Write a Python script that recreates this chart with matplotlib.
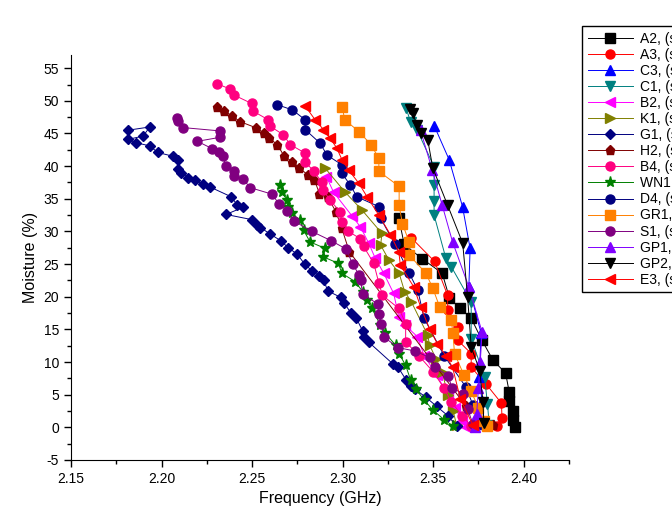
import matplotlib.pyplot as plt
from matplotlib.ticker import MultipleLocator

plt.rcParams['font.family'] = ['Liberation Sans', 'DejaVu Sans']
plt.rcParams['axes.unicode_minus'] = False

# frequency (GHz) / moisture (%)
freq_A2 = [2.331, 2.334, 2.344, 2.355, 2.359, 2.365, 2.371, 2.377, 2.383, 2.390, 2.392, 2.392, 2.394, 2.394, 2.395]
moist_A2 = [32.1, 28.0, 25.8, 23.6, 19.8, 18.2, 16.7, 13.3, 10.3, 8.3, 5.4, 4.0, 2.5, 1.2, 0.0]

freq_A3 = [2.338, 2.3508, 2.358, 2.358, 2.3637, 2.3637, 2.371, 2.371, 2.379, 2.3877, 2.388, 2.385]
moist_A3 = [29.0, 25.4, 20.2, 17.9, 15.4, 13.3, 11.3, 9.2, 6.7, 3.7, 1.5, 0.2]

freq_C3 = [2.3507, 2.3588, 2.3662, 2.3704, 2.3697, 2.3765, 2.3754, 2.377, 2.378]
moist_C3 = [46.1, 41.0, 33.8, 27.4, 21.5, 14.4, 7.7, 4.0, 0.5]

freq_C1 = [2.335, 2.3375, 2.341, 2.3505, 2.3505, 2.3505, 2.3505, 2.357, 2.360, 2.371, 2.371, 2.3784, 2.380, 2.381]
moist_C1 = [48.9, 46.8, 45.6, 39.9, 37.1, 34.6, 32.5, 25.9, 24.6, 19.2, 13.6, 7.7, 3.5, 0.3]

freq_B2 = [2.291, 2.295, 2.3051, 2.3098, 2.3144, 2.318, 2.3227, 2.3282, 2.331, 2.3347, 2.3412, 2.345, 2.352, 2.358, 2.362, 2.366, 2.368]
moist_B2 = [38.4, 36.0, 32.4, 30.7, 28.2, 25.9, 23.6, 20.5, 16.9, 15.6, 13.9, 11.0, 8.0, 5.0, 3.0, 1.0, 0.1]

freq_K1 = [2.2903, 2.3014, 2.3106, 2.3217, 2.321, 2.3256, 2.3312, 2.3342, 2.338, 2.347, 2.348, 2.3516, 2.355, 2.358, 2.361, 2.363]
moist_K1 = [39.7, 36.0, 33.3, 29.7, 27.9, 25.6, 23.6, 20.8, 19.2, 14.1, 12.6, 10.5, 8.5, 5.0, 2.5, 0.3]

freq_G1 = [2.1815, 2.1935, 2.1898, 2.1815, 2.1857, 2.1935, 2.1978, 2.2065, 2.2093, 2.2093, 2.211,
           2.2148, 2.2185, 2.2231, 2.2268, 2.2385, 2.2417, 2.245, 2.2356, 2.25, 2.2528, 2.2546,
           2.26, 2.2657, 2.27, 2.275, 2.279, 2.283, 2.287, 2.2897, 2.2917, 2.299, 2.3007, 2.3046,
           2.3074, 2.311, 2.312, 2.3146, 2.3278, 2.3306, 2.3352, 2.338, 2.3397, 2.346, 2.352, 2.358, 2.363]
moist_G1 = [45.5, 46.0, 44.6, 44.1, 43.6, 43.1, 42.1, 41.5, 40.9, 39.5, 39.0,
            38.2, 37.8, 37.2, 36.8, 35.3, 34.1, 33.7, 32.6, 31.8, 31.0, 30.6,
            29.6, 28.6, 27.5, 26.5, 25.0, 24.0, 23.2, 22.5, 20.9, 19.9, 19.1, 17.5,
            16.8, 14.8, 13.8, 13.0, 9.7, 9.2, 7.2, 6.4, 5.9, 4.6, 3.2, 1.8, 0.2]

freq_H2 = [2.2306, 2.2343, 2.2389, 2.2435, 2.2519, 2.2565, 2.2593, 2.264, 2.2677, 2.2723, 2.276,
           2.2807, 2.2844, 2.2872, 2.2917, 2.2963, 2.2995, 2.3037, 2.368, 2.383]
moist_H2 = [49.1, 48.5, 47.7, 46.8, 45.9, 45.1, 44.3, 43.3, 41.5, 40.7, 39.7,
            38.7, 37.9, 35.8, 35.3, 33.0, 30.5, 26.9, 3.3, 0.3]

freq_B4 = [2.2307, 2.238, 2.2399, 2.2497, 2.2507, 2.2589, 2.26, 2.2673, 2.271, 2.2793, 2.2793, 2.284,
           2.2885, 2.2894, 2.293, 2.2986, 2.2995, 2.3032, 2.3097, 2.3116, 2.3172, 2.32, 2.322,
           2.3311, 2.3348, 2.3348, 2.342, 2.35, 2.356, 2.36, 2.366, 2.371]
moist_B4 = [52.6, 51.8, 50.9, 49.6, 48.4, 47.1, 46.1, 44.8, 43.3, 42.0, 40.7, 39.2,
            37.6, 36.3, 34.8, 33.0, 31.5, 30.0, 28.9, 27.7, 25.1, 22.1, 20.2,
            18.2, 15.9, 13.1, 11.0, 8.5, 6.0, 3.9, 1.8, 0.2]

freq_WN1 = [2.2655, 2.2664, 2.2692, 2.2701, 2.2719, 2.2765, 2.2784, 2.282, 2.2903, 2.2894, 2.2977,
            2.2995, 2.307, 2.311, 2.3134, 2.3162, 2.3209, 2.3236, 2.3292, 2.3311, 2.3348, 2.3376,
            2.3403, 2.345, 2.35, 2.356, 2.361]
moist_WN1 = [37.1, 36.1, 34.8, 33.8, 32.8, 31.7, 30.2, 28.4, 27.4, 26.1, 25.1,
             23.6, 22.3, 20.8, 19.5, 18.2, 15.6, 14.4, 12.6, 11.3, 9.5, 7.2,
             5.9, 4.2, 2.6, 1.2, 0.2]

freq_D4 = [2.264, 2.2723, 2.2793, 2.2793, 2.2876, 2.2913, 2.2996, 2.2996, 2.3042, 2.3079, 2.32,
           2.321, 2.329, 2.3368, 2.3415, 2.345, 2.356, 2.368, 2.372, 2.376]
moist_D4 = [49.4, 48.6, 47.1, 45.6, 43.5, 41.7, 40.2, 38.9, 37.1, 35.3, 33.8,
            32.0, 28.0, 23.6, 21.0, 16.7, 11.0, 6.2, 3.4, 0.5]

freq_GR1 = [2.2998, 2.3011, 2.309, 2.3156, 2.32, 2.32, 2.3312, 2.3312, 2.333, 2.3367, 2.3367,
            2.346, 2.3498, 2.3535, 2.36, 2.3609, 2.3618, 2.367, 2.371, 2.375, 2.378, 2.38]
moist_GR1 = [49.1, 47.1, 45.3, 43.3, 41.2, 39.2, 36.9, 34.0, 31.2, 28.4, 26.4,
             23.6, 21.3, 18.5, 16.4, 14.4, 11.3, 8.0, 5.5, 3.0, 1.0, 0.2]

freq_S1 = [2.2083, 2.2093, 2.212, 2.232, 2.232, 2.2198, 2.2278, 2.2315, 2.2337, 2.2356, 2.2398,
           2.24, 2.245, 2.249, 2.2611, 2.2648, 2.2694, 2.2731, 2.283, 2.2935, 2.302, 2.3055,
           2.309, 2.31, 2.311, 2.3194, 2.3203, 2.321, 2.323, 2.3306, 2.3398, 2.348, 2.351,
           2.3584, 2.3602, 2.3667, 2.369, 2.372]
moist_S1 = [47.4, 46.9, 45.9, 45.4, 44.4, 43.8, 42.7, 42.1, 41.6, 40.0, 39.2,
            38.5, 38.0, 36.7, 35.7, 34.2, 33.2, 31.6, 30.0, 28.6, 27.3, 25.0,
            23.4, 22.5, 20.4, 18.9, 17.3, 15.8, 13.8, 12.2, 11.7, 10.7, 9.2,
            7.9, 6.1, 5.1, 2.8, 0.5]

freq_GP1 = [2.343, 2.3495, 2.355, 2.3607, 2.3697, 2.377, 2.376, 2.375, 2.374, 2.373]
moist_GP1 = [45.5, 39.4, 34.0, 28.4, 21.5, 14.6, 10.0, 6.0, 2.0, 0.0]

freq_GP2 = [2.337, 2.3387, 2.341, 2.3434, 2.347, 2.3498, 2.358, 2.3663, 2.369, 2.371, 2.3757, 2.3775, 2.378]
moist_GP2 = [48.8, 48.1, 46.3, 45.0, 44.0, 39.7, 34.0, 28.2, 20.0, 12.3, 8.7, 3.9, 0.6]

freq_E3 = [2.2793, 2.2848, 2.2894, 2.293, 2.2967, 2.2996, 2.3033, 2.3089, 2.3135, 2.32, 2.3264,
           2.331, 2.3319, 2.3393, 2.343, 2.348, 2.3523, 2.357, 2.3607, 2.365, 2.372]
moist_E3 = [49.2, 47.1, 45.6, 44.3, 42.8, 41.0, 39.4, 37.4, 35.3, 32.5, 29.5,
            26.9, 24.8, 21.5, 18.5, 15.1, 12.8, 11.0, 9.2, 4.4, 0.3]

names = ['A2', 'A3', 'C3', 'C1', 'B2', 'K1', 'G1', 'H2', 'B4', 'WN1', 'D4', 'GR1', 'S1', 'GP1', 'GP2', 'E3']
freqs = [freq_A2, freq_A3, freq_C3, freq_C1, freq_B2, freq_K1, freq_G1, freq_H2,
         freq_B4, freq_WN1, freq_D4, freq_GR1, freq_S1, freq_GP1, freq_GP2, freq_E3]
moists = [moist_A2, moist_A3, moist_C3, moist_C1, moist_B2, moist_K1, moist_G1, moist_H2,
          moist_B4, moist_WN1, moist_D4, moist_GR1, moist_S1, moist_GP1, moist_GP2, moist_E3]
colors = ['#000000', '#FF0000', '#0000FF', '#008080', '#FF00FF', '#808000', '#000080', '#800000',
          '#FF0080', '#008000', '#000080', '#FF8000', '#800080', '#8000FF', '#000000', '#FF0000']
markers = ['s', 'o', '^', 'v', '<', '>', 'D', 'p', 'o', '*', 'o', 's', 'o', '^', 'v', '<']

fig = plt.figure(figsize=(6.72, 5.2), dpi=100)
ax = fig.add_axes([0.1057, 0.1154, 0.741, 0.7786])

for i in range(len(names)):
    ms = 6.5
    if markers[i] == '*':
        ms = 8
    elif markers[i] == 'D':
        ms = 5.5
    ax.plot(freqs[i], moists[i], color=colors[i], marker=markers[i], markersize=ms,
            linewidth=0.7, label=names[i] + ', (sample)')

ax.set_xlim(2.15, 2.425)
ax.set_ylim(-5, 57)
ax.xaxis.set_minor_locator(MultipleLocator(0.025))
ax.yaxis.set_major_locator(MultipleLocator(5))
ax.yaxis.set_minor_locator(MultipleLocator(2.5))
ax.set_xticks([2.15, 2.20, 2.25, 2.30, 2.35, 2.40])
ax.set_xticklabels(['2.15', '2.20', '2.25', '2.30', '2.35', '2.40'])

ax.spines['top'].set_visible(False)
ax.spines['right'].set_visible(False)
ax.tick_params(which='major', direction='out', length=5, width=1, labelsize=10)
ax.tick_params(which='minor', direction='out', length=3, width=1)

ax.set_xlabel('Frequency (GHz)', fontsize=11.5)
ax.set_ylabel('Moisture (%)', fontsize=11.5)

fig.legend(loc='upper left', bbox_to_anchor=(582 / 672, 1 - 26 / 520), fontsize=10,
           frameon=True, fancybox=False, edgecolor='black', framealpha=1,
           handlelength=3.3, handletextpad=0.5, labelspacing=0.15, borderpad=0.4,
           borderaxespad=0)

fig.savefig('out.png', dpi=100)
